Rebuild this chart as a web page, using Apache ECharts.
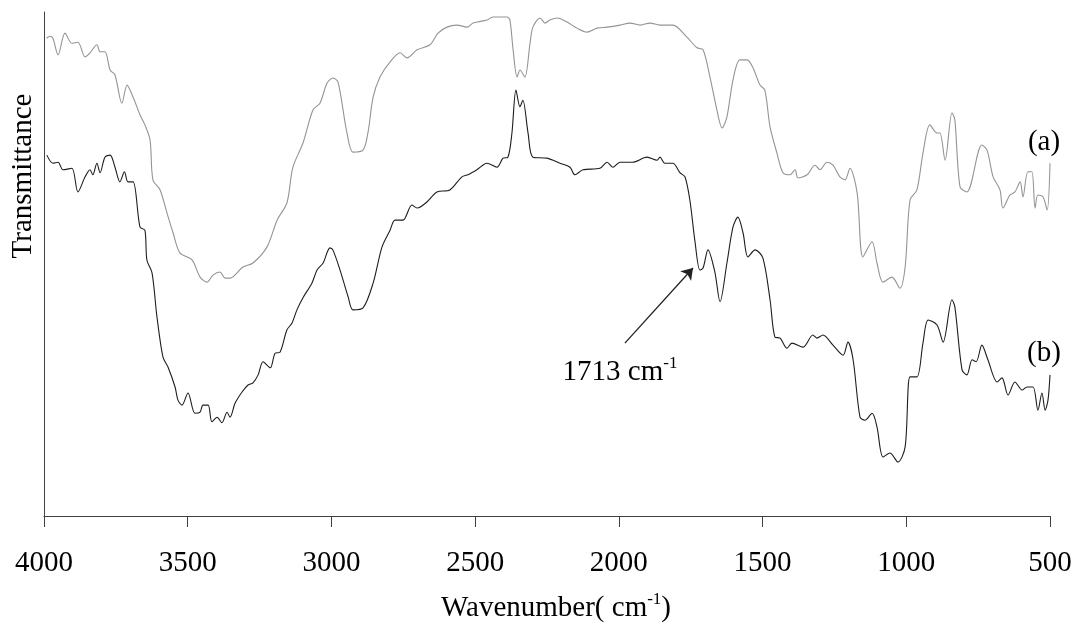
<!DOCTYPE html>
<html>
<head>
<meta charset="utf-8">
<script src="https://cdn.jsdelivr.net/npm/echarts@6/dist/echarts.min.js"></script>
<style>
html,body{margin:0;padding:0;background:#fff;}
#chart{width:1078px;height:627px;}
</style>
</head>
<body>
<div id="chart"></div>
<script>
// Spectrum (a): wavenumber (cm-1) and transmittance (arbitrary units)
const aWavenumber = [3991,3979,3969,3951,3927,3903,3882,3857,3840,3816,3805,3788,3770,3753,3729,3711,3690,3666,3649,3631,3621,3596,3572,3551,3527,3485,3457,3433,3412,3388,3370,3353,3308,3273,3224,3189,3155,3134,3099,3064,3040,3015,2995,2977,2946,2925,2890,2873,2855,2831,2796,2761,2737,2702,2657,2629,2598,2563,2528,2507,2459,2438,2389,2379,2368,2354,2344,2327,2309,2299,2274,2257,2240,2215,2180,2146,2111,2076,2041,1996,1961,1926,1892,1857,1812,1763,1728,1707,1683,1659,1641,1624,1603,1579,1554,1533,1509,1492,1474,1450,1429,1405,1387,1377,1345,1318,1300,1276,1255,1231,1213,1196,1171,1151,1119,1102,1081,1050,1022,1004,987,963,942,918,893,883,865,841,831,813,789,737,719,698,674,664,639,622,604,594,577,563,552,542,524,510,500];
const aTrans = [94.8,95.2,94.8,91.5,95.8,93.8,94.0,91.1,91.9,93.5,92.1,92.1,88.5,87.5,81.9,85.5,83.1,79.6,77.6,74.6,66.7,64.7,60.1,56.2,52.2,50.8,47.4,46.4,47.8,48.4,47.2,47.2,49.4,50.2,53.4,58.7,62.1,69.2,74.0,80.6,81.9,85.9,86.9,86.1,76.0,72.2,72.6,76.0,83.1,87.1,90.1,91.9,90.9,92.5,93.5,95.8,97.0,97.4,97.0,97.8,98.4,99.0,99.0,98.4,92.5,87.1,88.5,87.1,93.8,97.0,98.8,97.8,98.4,98.8,98.0,96.8,96.0,96.8,97.0,97.4,97.8,97.4,97.8,97.4,97.4,95.0,92.9,92.5,87.1,80.6,77.0,79.2,86.5,90.5,90.5,88.9,85.5,84.5,77.2,72.0,68.1,67.7,68.7,67.1,67.7,69.6,68.7,70.2,69.6,67.3,66.7,69.0,64.1,51.4,54.4,50.2,46.4,47.4,45.2,49.4,62.7,64.7,72.0,77.6,76.0,76.0,70.6,80.0,78.6,65.3,64.3,73.6,72.6,67.3,64.7,61.1,63.7,64.3,66.3,63.3,68.3,68.3,61.1,63.7,63.3,60.7,70.0];

// Spectrum (b)
const bWavenumber = [3990,3969,3951,3934,3903,3882,3857,3840,3830,3816,3805,3788,3770,3753,3736,3720,3708,3690,3666,3649,3642,3624,3607,3586,3569,3544,3534,3520,3499,3475,3457,3447,3429,3416,3398,3381,3363,3353,3335,3311,3290,3273,3255,3238,3213,3196,3179,3155,3137,3120,3099,3068,3050,3029,3005,2995,2970,2942,2925,2890,2855,2824,2796,2779,2751,2720,2702,2668,2633,2588,2546,2525,2494,2459,2424,2403,2386,2372,2358,2344,2334,2316,2299,2250,2205,2170,2153,2125,2066,2041,2021,1996,1952,1902,1867,1857,1840,1812,1787,1770,1753,1735,1718,1707,1690,1666,1648,1624,1603,1586,1568,1551,1526,1499,1474,1457,1439,1415,1398,1359,1325,1311,1290,1255,1220,1203,1185,1161,1144,1119,1102,1081,1057,1029,1004,987,963,942,924,893,872,841,831,806,789,771,757,737,716,684,667,646,622,597,580,559,542,528,517,507,500];
const bTrans = [71.6,70.0,70.2,68.7,69.0,64.3,67.3,68.7,67.7,70.0,68.1,71.2,71.6,69.2,66.3,68.3,66.3,66.3,57.3,56.7,50.8,48.2,39.5,31.5,29.6,25.6,23.0,22.0,24.4,20.4,20.6,22.0,22.0,18.7,19.6,18.5,20.6,19.6,22.4,24.6,26.0,26.4,28.0,30.6,29.4,32.3,32.5,36.9,38.3,40.9,43.3,46.2,48.8,50.2,53.2,52.8,48.8,43.5,40.9,41.3,46.2,53.4,56.7,58.7,58.7,61.7,61.1,62.3,64.3,64.7,67.3,67.7,68.7,70.0,69.2,71.0,71.2,76.0,84.5,81.2,82.5,76.0,71.2,71.0,70.0,69.2,67.7,68.7,69.0,70.2,69.2,70.2,70.2,71.2,70.6,71.2,70.0,70.0,68.1,67.3,62.7,54.4,48.8,49.2,52.8,48.4,42.5,50.2,57.3,59.3,56.2,51.4,52.8,51.2,42.9,35.5,35.3,33.3,34.3,33.5,35.9,35.3,35.9,33.9,31.9,34.5,31.0,19.6,19.0,20.4,17.7,11.7,12.5,10.7,13.7,27.6,27.6,34.3,38.9,37.9,34.5,42.9,41.5,29.0,28.0,31.0,30.6,33.9,31.0,26.6,27.4,24.0,26.6,25.0,25.6,25.6,21.0,24.4,21.0,23.0,28.0];

// Annotation arrow (data coords): from label to the 1713 cm-1 band
const arrowStart = [1979, 34.3];
const arrowEnd = [1742, 49.2];
const xTicks = [4000,3500,3000,2500,2000,1500,1000,500];

const serif = "'Liberation Serif','Times New Roman',serif";
const pair = (xs, ys) => xs.map((x, i) => [x, ys[i]]);

const chart = echarts.init(document.getElementById('chart'));
chart.setOption({
  animation: false,
  backgroundColor: '#ffffff',
  grid: {left: 44, right: 28, top: 12, bottom: 111, containLabel: false},
  xAxis: {
    type: 'value', inverse: true,
    min: xTicks[xTicks.length - 1], max: xTicks[0], interval: 500,
    axisLine: {show: true, lineStyle: {color: '#404040', width: 1}},
    axisTick: {show: true, length: 11, lineStyle: {color: '#404040', width: 1}},
    splitLine: {show: false},
    axisLabel: {color: '#000', fontFamily: serif, fontSize: 29, margin: 33, formatter: v => String(v)}
  },
  yAxis: {
    type: 'value', min: 0, max: 100,
    axisLine: {show: true, lineStyle: {color: '#404040', width: 1}},
    axisTick: {show: false}, axisLabel: {show: false}, splitLine: {show: false}
  },
  series: [
    {
      name: '(a)', type: 'line', data: pair(aWavenumber, aTrans),
      showSymbol: false, symbol: 'none', smooth: 0.3,
      lineStyle: {color: '#949494', width: 1.1}
    },
    {
      name: '(b)', type: 'line', data: pair(bWavenumber, bTrans),
      showSymbol: false, symbol: 'none', smooth: 0.3,
      lineStyle: {color: '#1e1e1e', width: 1.1},
      markLine: {
        silent: true, animation: false,
        symbol: ['none', 'arrow'], symbolSize: 11,
        label: {show: false},
        lineStyle: {color: '#222', width: 1.3, type: 'solid'},
        data: [[{coord: arrowStart}, {coord: arrowEnd}]]
      }
    }
  ],
  graphic: [
    {
      type: 'text', x: 23, y: 176, rotation: Math.PI / 2,
      style: {text: 'Transmittance', font: '29px ' + serif, fill: '#000', align: 'center', verticalAlign: 'middle'}
    },
    {
      type: 'text', x: 556, y: 607,
      style: {
        text: '{m|Wavenumber( cm}{s|-1}{m|)}', align: 'center', verticalAlign: 'middle',
        rich: {
          m: {fontFamily: serif, fontSize: 29, fill: '#000', lineHeight: 32, verticalAlign: 'bottom'},
          s: {fontFamily: serif, fontSize: 17, fill: '#000', lineHeight: 32, verticalAlign: 'top'}
        }
      }
    },
    {
      type: 'text', x: 620, y: 371,
      style: {
        text: '{m|1713 cm}{s|-1}', align: 'center', verticalAlign: 'middle',
        rich: {
          m: {fontFamily: serif, fontSize: 29, fill: '#000', lineHeight: 32, verticalAlign: 'bottom'},
          s: {fontFamily: serif, fontSize: 17, fill: '#000', lineHeight: 32, verticalAlign: 'top'}
        }
      }
    },
    {
      type: 'text', x: 1044, y: 142,
      style: {text: '(a)', font: '29px ' + serif, fill: '#000', align: 'center', verticalAlign: 'middle'}
    },
    {
      type: 'text', x: 1044, y: 353,
      style: {text: '(b)', font: '29px ' + serif, fill: '#000', align: 'center', verticalAlign: 'middle'}
    }
  ]
});
</script>
</body>
</html>
